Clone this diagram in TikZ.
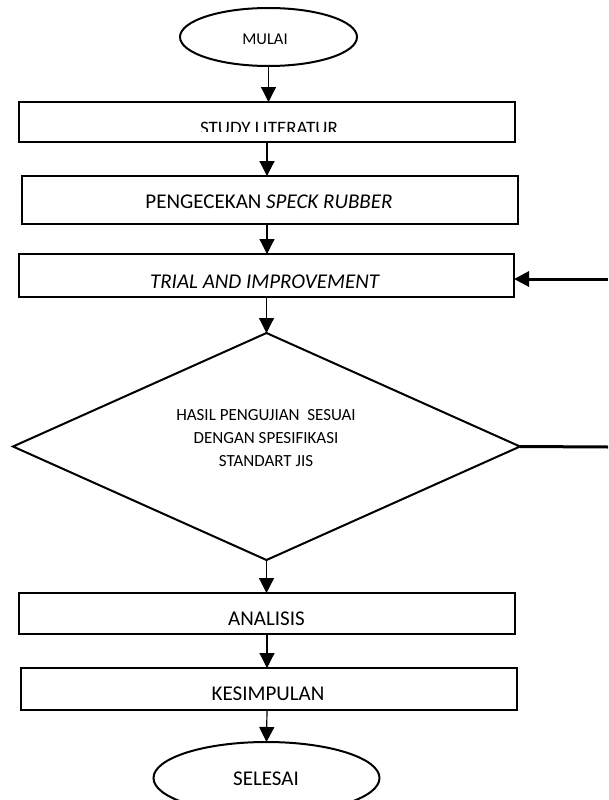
\documentclass[tikz,border=0pt]{standalone}
\usepackage{fontspec}
\setmainfont{Carlito}
\usetikzlibrary{shapes.geometric,arrows.meta}
\begin{document}
\begin{tikzpicture}[x=1pt,y=-1pt,
  box/.style={draw,line width=2pt,rectangle,inner sep=0pt,outer sep=0pt},
  oval/.style={draw,line width=2pt,ellipse,inner sep=0pt,outer sep=0pt},
  dia/.style={draw,line width=2pt,diamond,inner sep=0pt,outer sep=0pt},
  txt/.style={anchor=base,inner sep=0pt,font=\fontsize{21}{25}\selectfont},
  stxt/.style={anchor=base,inner sep=0pt,font=\fontsize{17}{23}\selectfont},
  arr/.style={line width=1.2pt,-{Triangle[length=15pt,width=15pt]}},
  fb/.style={line width=3pt}]
\useasboundingbox (0,0) rectangle (608,800);
\clip (0,0) rectangle (608,800);
\fill[white] (0,0) rectangle (608,800);

% shapes
\node[oval,minimum width=177pt,minimum height=58pt] (mulai) at (268.5,37) {};
\node[box,minimum width=496pt,minimum height=40pt] (study) at (267,122) {};
\node[box,minimum width=496pt,minimum height=48pt] (peng) at (270,200) {};
\node[box,minimum width=495pt,minimum height=43pt] (trial) at (266.5,275.5) {};
\node[dia,minimum width=507pt,minimum height=227pt] (dia) at (266.5,446.5) {};
\node[box,minimum width=496pt,minimum height=41pt] (anal) at (267,613.5) {};
\node[box,minimum width=496pt,minimum height=42pt] (kes) at (269,689) {};
\node[oval,minimum width=226pt,minimum height=72pt] (sel) at (266.5,778) {};

% texts
\node[anchor=base,inner sep=0pt,font=\fontsize{16.5}{20}\selectfont] (tmulai) at (265,45) {MULAI};
\begin{scope}
\clip (19,102) rectangle (515,131.5);
\node[anchor=base,inner sep=0pt,font=\fontsize{19}{23}\selectfont] (tstudy) at (269,134) {STUDY LITERATUR};
\end{scope}
\node[txt] (tpeng) at (269,208) {PENGECEKAN \textit{SPECK RUBBER}};
\node[txt] (ttrial) at (265,288) {\textit{TRIAL AND IMPROVEMENT}};
\node[stxt] (td1) at (266,420) {HASIL PENGUJIAN\ \ SESUAI};
\node[stxt] (td2) at (266,443) {DENGAN SPESIFIKASI};
\node[stxt] (td3) at (266,466) {STANDART JIS};
\node[txt] (tanal) at (266.5,625) {ANALISIS};
\node[txt] (tkes) at (268,700) {KESIMPULAN};
\node[txt] (tsel) at (266,785) {SELESAI};

% connectors
\draw[arr] (mulai.south) -- (mulai.south |- study.north);
\draw[arr] (study.south) -- (study.south |- peng.north);
\draw[arr] (study.south |- peng.south) -- (study.south |- trial.north);
\draw[arr] (trial.south) -- (dia.north);
\draw[arr] (dia.south) -- (dia.south |- anal.north);
\draw[arr] (anal.south) -- (anal.south |- kes.north);
\draw[arr] (anal.south |- kes.south) -- (sel.north);

% feedback (continues beyond the right edge)
\coordinate (r1) at (608,279);
\coordinate (r2) at (608,447);
\draw[fb] (dia.east) -- (r2);
\draw[fb,-{Triangle[length=15pt,width=15pt]}] (r1) -- (r1 -| trial.east);
\end{tikzpicture}
\end{document}
